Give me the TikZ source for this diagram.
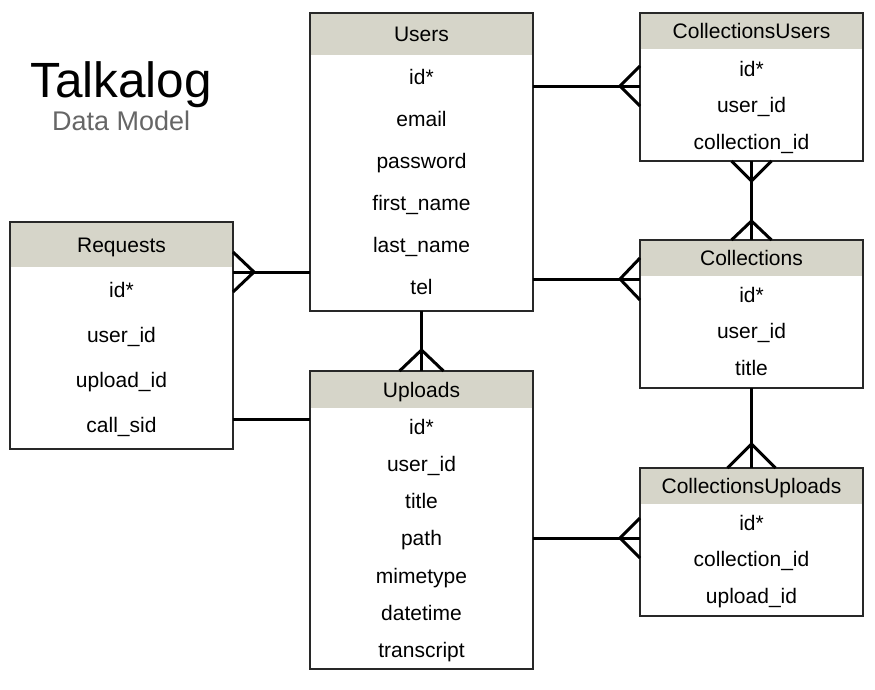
\documentclass[tikz,border=0pt]{standalone}
\usepackage{fontspec}
\setmainfont{Liberation Sans}
\usetikzlibrary{calc}

\definecolor{headfill}{RGB}{214,213,201}
\definecolor{framecol}{RGB}{40,40,40}
\definecolor{subgray}{RGB}{102,102,102}

\tikzset{
  box/.style={draw=framecol,line width=1.3pt,fill=white,inner sep=0pt,outer sep=0pt},
  frame/.style={draw=framecol,line width=1.3pt},
  head/.style={fill=headfill,inner sep=0pt,outer sep=0pt,anchor=north,
    font=\fontsize{21}{24}\selectfont,text height=15pt,text depth=0pt},
  field/.style={inner sep=0pt,font=\fontsize{21}{24}\selectfont,text height=15pt,text depth=0pt},
  rel/.style={line width=3pt,black,line join=miter},
}

\begin{document}
\begin{tikzpicture}[x=1pt,y=-1pt]
  \useasboundingbox (0,0) rectangle (875,689);

  % title
  \node[anchor=base west,inner sep=0pt,font=\fontsize{49.5}{52}\selectfont] (title) at (30,97) {Talkalog};
  \node[anchor=base west,inner sep=0pt,text=subgray,font=\fontsize{27}{30}\selectfont] (subtitle) at (52,130) {Data Model};

  % Users
  \node[box,minimum width=223,minimum height=298] (users) at (421.5,162) {};
  \node[head,minimum width=223,minimum height=42] (users-h) at (users.north) {Users};
  \draw[frame] (users.north west) rectangle (users.south east);
  \foreach \t [count=\i] in {id*,email,password,first\_name,last\_name,tel}
    \node[field] (users-\i) at (421.5,{35+42*\i}) {\t};

  % CollectionsUsers
  \node[box,minimum width=223,minimum height=148] (cu) at (751.5,87) {};
  \node[head,minimum width=223,minimum height=36] (cu-h) at (cu.north) {CollectionsUsers};
  \draw[frame] (cu.north west) rectangle (cu.south east);
  \foreach \t [count=\i] in {id*,user\_id,collection\_id}
    \node[field] (cu-\i) at (751.5,{32+36.5*\i}) {\t};

  % Collections
  \node[box,minimum width=223,minimum height=148] (coll) at (751.5,314) {};
  \node[head,minimum width=223,minimum height=36] (coll-h) at (coll.north) {Collections};
  \draw[frame] (coll.north west) rectangle (coll.south east);
  \foreach \t [count=\i] in {id*,user\_id,title}
    \node[field] (coll-\i) at (751.5,{258+36.7*\i}) {\t};

  % CollectionsUploads
  \node[box,minimum width=223,minimum height=148] (cup) at (751.5,542) {};
  \node[head,minimum width=223,minimum height=36] (cup-h) at (cup.north) {CollectionsUploads};
  \draw[frame] (cup.north west) rectangle (cup.south east);
  \foreach \t [count=\i] in {id*,collection\_id,upload\_id}
    \node[field] (cup-\i) at (751.5,{486+36.7*\i}) {\t};

  % Requests
  \node[box,minimum width=223,minimum height=227] (req) at (121.5,335.5) {};
  \node[head,minimum width=223,minimum height=45] (req-h) at (req.north) {Requests};
  \draw[frame] (req.north west) rectangle (req.south east);
  \foreach \t [count=\i] in {id*,user\_id,upload\_id,call\_sid}
    \node[field] (req-\i) at (121.5,{245+45*\i}) {\t};

  % Uploads
  \node[box,minimum width=223,minimum height=298] (upl) at (421.5,520) {};
  \node[head,minimum width=223,minimum height=37] (upl-h) at (upl.north) {Uploads};
  \draw[frame] (upl.north west) rectangle (upl.south east);
  \foreach \t [count=\i] in {id*,user\_id,title,path,mimetype,datetime,transcript}
    \node[field] (upl-\i) at (421.5,{390+37.1*\i}) {\t};

  % connector ends
  \coordinate (users-cu) at ($(users.north east)+(0,73)$);
  \coordinate (cu-in) at ($(cu.north west)+(0,73)$);
  \coordinate (users-coll) at ($(users.north east)+(0,266)$);
  \coordinate (coll-in) at ($(coll.north west)+(0,39)$);
  \coordinate (req-in) at ($(req.north east)+(0,50)$);
  \coordinate (users-req) at ($(users.north west)+(0,259)$);
  \coordinate (req-upl) at ($(req.north east)+(0,197)$);
  \coordinate (upl-req) at ($(upl.north west)+(0,48)$);
  \coordinate (upl-cup) at ($(upl.north east)+(0,167)$);
  \coordinate (cup-in) at ($(cup.north west)+(0,70)$);

  % relations
  \draw[rel] (users-cu) -- (cu-in);
  \draw[rel] (users-coll) -- (coll-in);
  \draw[rel] (req-in) -- (users-req);
  \draw[rel] (req-upl) -- (upl-req);
  \draw[rel] (upl-cup) -- (cup-in);
  \draw[rel] (users.south) -- (upl.north);
  \draw[rel] (cu.south) -- (coll.north);
  \draw[rel] (coll.south) -- (cup.north);

  % crow's feet
  \draw[rel] ($(cu-in)+(0,-20)$) -- ($(cu-in)+(-20,0)$) -- ($(cu-in)+(0,20)$);
  \draw[rel] ($(coll-in)+(0,-21)$) -- ($(coll-in)+(-20,0)$) -- ($(coll-in)+(0,21)$);
  \draw[rel] ($(cup-in)+(0,-20)$) -- ($(cup-in)+(-20,0)$) -- ($(cup-in)+(0,20)$);
  \draw[rel] ($(req-in)+(0,-20)$) -- ($(req-in)+(21,0)$) -- ($(req-in)+(0,20)$);
  \draw[rel] ($(cu.south)+(-20,0)$) -- ($(cu.south)+(0,20)$) -- ($(cu.south)+(20,0)$);
  \draw[rel] ($(coll.north)+(-20,0)$) -- ($(coll.north)+(0,-19)$) -- ($(coll.north)+(20,0)$);
  \draw[rel] ($(upl.north)+(-22,0)$) -- ($(upl.north)+(0,-21)$) -- ($(upl.north)+(22,0)$);
  \draw[rel] ($(cup.north)+(-24,0)$) -- ($(cup.north)+(0,-24)$) -- ($(cup.north)+(24,0)$);
\end{tikzpicture}
\end{document}
